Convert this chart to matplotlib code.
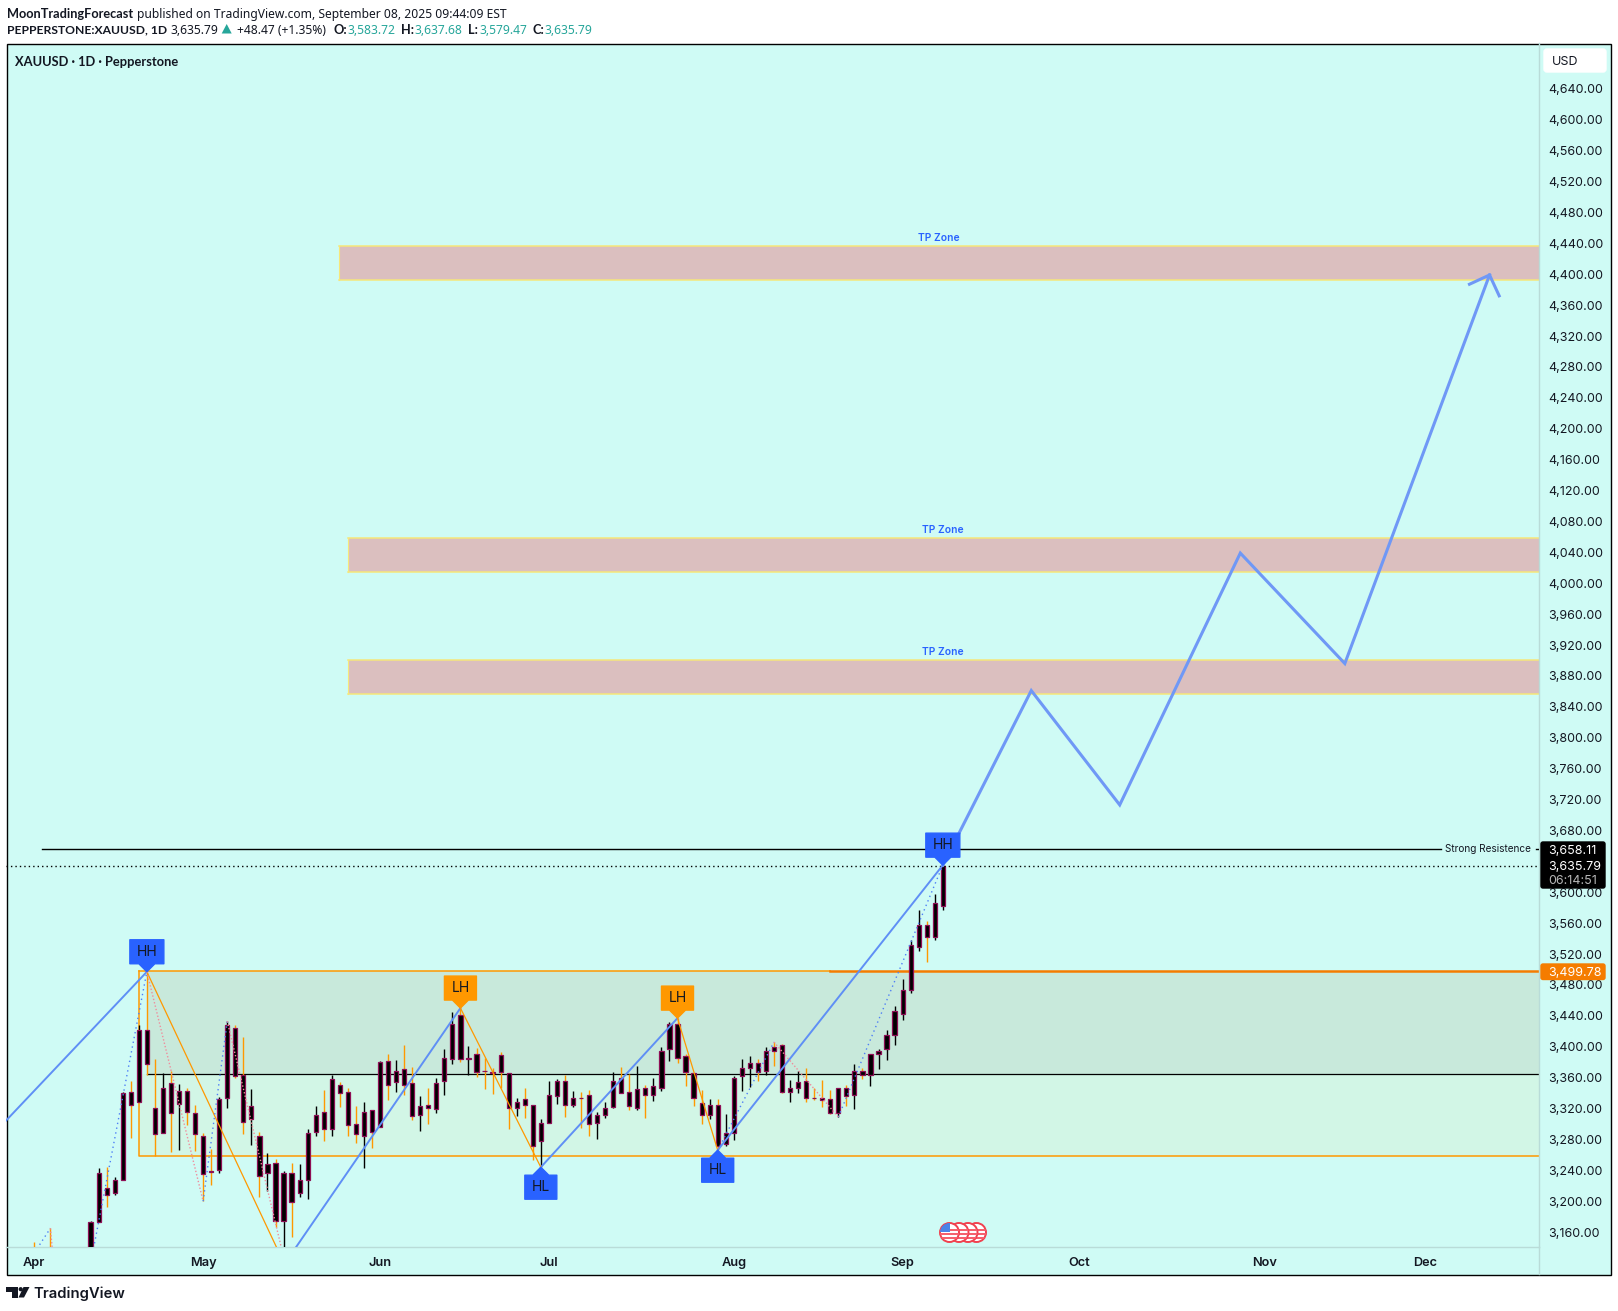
import matplotlib
matplotlib.use('Agg')
import matplotlib.pyplot as plt
from matplotlib.patches import Circle, Polygon, Rectangle, FancyBboxPatch
from matplotlib.lines import Line2D
from matplotlib.transforms import Affine2D

WIDTH, HEIGHT = 1618, 1311

# daily candles, one entry per trading day from Apr 1 (first ones mostly below the axis)
highs = [3149, 3139, 3167, 3135, 3110, 3055, 3020, 3176, 3245, 3246, 3233, 3343, 3357, 3430, 3499,
         3386, 3368, 3370, 3354, 3348, 3327, 3290, 3269, 3337, 3435, 3430, 3415, 3347, 3291, 3265,
         3256, 3241, 3252, 3250, 3295, 3325, 3346, 3366, 3356, 3349, 3325, 3331, 3320, 3383, 3393,
         3385, 3404, 3376, 3338, 3349, 3361, 3399, 3447, 3452, 3403, 3400, 3387, 3374, 3395, 3368,
         3336, 3349, 3327, 3309, 3357, 3360, 3365, 3344, 3343, 3346, 3317, 3330, 3369, 3376, 3367,
         3377, 3352, 3361, 3402, 3434, 3439, 3393, 3368, 3346, 3334, 3334, 3315, 3364, 3386, 3390,
         3386, 3402, 3408, 3405, 3359, 3370, 3374, 3348, 3359, 3346, 3349, 3352, 3379, 3375, 3393,
         3399, 3424, 3455, 3489, 3540, 3579, 3565, 3600, 3637.68]
body_tops = [3135, 3133, 3125, 3115, 3090, 3035, 3000, 3175, 3238, 3219, 3229, 3342, 3343, 3423, 3423,
             3322, 3348, 3355, 3344, 3345, 3316, 3287, 3241, 3334, 3430, 3426, 3366, 3325, 3287, 3250,
             3252, 3239, 3239, 3230, 3290, 3314, 3318, 3360, 3352, 3343, 3302, 3317, 3320, 3382, 3383,
             3371, 3373, 3355, 3325, 3326, 3355, 3387, 3432, 3443, 3388, 3392, 3370, 3369, 3391, 3368,
             3331, 3334, 3327, 3303, 3339, 3357, 3358, 3336, 3336, 3339, 3313, 3323, 3357, 3362, 3343,
             3347, 3349, 3351, 3397, 3431, 3431, 3390, 3368, 3329, 3326, 3326, 3290, 3362, 3374, 3381,
             3381, 3396, 3401, 3404, 3348, 3356, 3357, 3336, 3336, 3334, 3348, 3349, 3371, 3371, 3393,
             3397, 3417, 3448, 3476, 3533, 3559, 3559, 3588, 3635.79]
body_bots = [3115, 3113, 3090, 3090, 3035, 2975, 2970, 3083, 3175, 3210, 3212, 3230, 3327, 3331, 3380,
             3289, 3290, 3316, 3328, 3317, 3289, 3237, 3240, 3242, 3335, 3364, 3305, 3308, 3234, 3238,
             3177, 3177, 3201, 3212, 3229, 3291, 3295, 3295, 3342, 3300, 3289, 3286, 3291, 3298, 3353,
             3356, 3352, 3312, 3314, 3322, 3321, 3358, 3386, 3386, 3386, 3369, 3370, 3368, 3369, 3322,
             3323, 3327, 3274, 3280, 3303, 3338, 3326, 3326, 3336, 3302, 3303, 3313, 3324, 3342, 3325,
             3323, 3339, 3339, 3348, 3399, 3387, 3369, 3336, 3314, 3313, 3274, 3276, 3290, 3364, 3374,
             3369, 3370, 3397, 3343, 3343, 3349, 3335, 3336, 3333, 3316, 3316, 3338, 3339, 3365, 3365,
             3393, 3399, 3417, 3444, 3475, 3531, 3544, 3544, 3583.72]
lows = [3100, 3100, 3054, 3054, 3015, 2957, 2960, 3080, 3175, 3194, 3210, 3230, 3284, 3330, 3366,
        3260, 3290, 3266, 3268, 3300, 3267, 3202, 3223, 3238, 3323, 3361, 3289, 3275, 3208, 3215,
        3168, 3130, 3155, 3207, 3205, 3286, 3280, 3287, 3324, 3286, 3277, 3245, 3271, 3298, 3333,
        3343, 3340, 3307, 3293, 3302, 3316, 3340, 3380, 3382, 3366, 3363, 3347, 3341, 3348, 3296,
        3312, 3310, 3255, 3246, 3303, 3328, 3311, 3324, 3297, 3286, 3283, 3310, 3323, 3342, 3320,
        3320, 3310, 3332, 3345, 3384, 3381, 3351, 3325, 3302, 3308, 3268, 3274, 3281, 3345, 3350,
        3358, 3366, 3377, 3342, 3330, 3342, 3330, 3333, 3324, 3315, 3311, 3325, 3321, 3360, 3351,
        3373, 3385, 3404, 3437, 3471, 3526, 3512, 3540, 3579.47]
# o = orange wick, k = black wick
wick_kinds = list('okokkokkkokkoko' 'okokooookkookok' 'okokkkokoookoko' 'kookokkkokooooo'
                  'kookkkokookkkoo' 'kokkkooookokkkk' 'okookkoooo' 'kokok' 'kkkkkkokk')

# 3,640 sits under the last-price tag in the original, so it is not listed
price_ticks = [p for p in range(3160, 4641, 40) if p != 3640]
month_bars = [0, 21, 43, 64, 87, 108, 130, 153, 173]
month_names = ['Apr', 'May', 'Jun', 'Jul', 'Aug', 'Sep', 'Oct', 'Nov', 'Dec']

last_price = 3635.79
resistance = 3658.11
range_top = 3499.78
range_mid = 3367
range_low = 3260

# drawn tools: (bar, price) pairs
wave_up = [[(-4, 3301), (14, 3499)], [(31, 3119), (53, 3452)], [(63, 3246), (80, 3439)], [(85, 3268), (113, 3637)]]
wave_down = [[(14, 3499), (31, 3123)], [(53, 3452), (63, 3246)], [(80, 3439), (85, 3268)]]
dots_up = [[(0, 3135), (2, 3167)], [(6, 3067), (14, 3499)], [(21, 3202), (24, 3435)],
           [(85, 3268), (92, 3408)], [(100, 3311), (113, 3637)]]
dots_down = [[(2, 3167), (3, 3054)], [(14, 3499), (21, 3202)], [(24, 3435), (31, 3130)], [(92, 3408), (100, 3311)]]
projection_bars = [113, 124, 135, 150, 163, 181]
projection_prices = [3637, 3863, 3715, 4041, 3898, 4401]
arrow_head_bars = [178.5, 181, 182.2]
arrow_head_prices = [4389, 4401, 4374]

zone_left = [37.85, 39, 39]
zone_top = [4439, 4061, 3902]
zone_bot = [4395, 4017, 3858]
zone_text_bar = [112.5, 113, 113]

pivot_bars = [14, 53, 63, 80, 85, 113]
pivot_prices = [3499, 3452, 3246, 3439, 3268, 3637]
pivot_names = ['HH', 'LH', 'HL', 'LH', 'HL', 'HH']

BG = '#cffbf5'
INK = '#131722'
BLUE = '#2962ff'
ORANGE = '#ff9800'
TEAL = '#26a69a'
LINE_BLUE = '#5f8ff5'
UI_FONT = ['Inter', 'DejaVu Sans']
HEAD_FONT = ['Noto Sans', 'DejaVu Sans']
# Noto Sans has no bold face here, Lato does
BOLD_FONT = ['Lato', 'DejaVu Sans']
HEAD_SIZE = 8.7

fig = plt.figure(figsize=(WIDTH / 100, HEIGHT / 100), dpi=100, facecolor='white')
px = Affine2D().scale(1, -1).translate(0, HEIGHT)


def ftext(x, y, s, **kw):
    kw.setdefault('va', 'center_baseline')
    kw.setdefault('family', UI_FONT)
    kw.setdefault('color', INK)
    return fig.text(x / WIDTH, 1 - y / HEIGHT, s, **kw)


fig.add_artist(Rectangle((6.5, 43.5), 1604.5, 1231, transform=px, facecolor=BG, edgecolor='black',
                         linewidth=1, zorder=-2))

# chart area in pixels: x 6..1539, y 43..1247
ax = fig.add_axes([6 / WIDTH, 1 - 1247 / HEIGHT, 1533 / WIDTH, 1204 / HEIGHT])
ax.patch.set_visible(False)
bar_px = 8.04
price_px = 1.2945
ax.set_xlim(-3.52, 187.15)
ax.set_ylim(3142.7, 4701.3)

# range box behind the candles
ax.fill_between([14, 187.15], range_mid, range_top, color='#c8e9db', lw=0, zorder=1)
ax.fill_between([13, 187.15], range_low, range_mid, color='#d2f6e6', lw=0, zorder=1)
ax.plot([13, 13, 187.15], [range_top, range_low, range_low], color=ORANGE, lw=1.1, zorder=2)
ax.plot([13, 99], [range_top, range_top], color=ORANGE, lw=1.1, zorder=2)
ax.plot([99, 187.15], [range_top, range_top], color='#f57c00', lw=1.8, zorder=2)
ax.plot([14, 187.15], [range_mid, range_mid], color='black', lw=0.9, zorder=2)

# target zones
for left, top, bot, tx in zip(zone_left, zone_top, zone_bot, zone_text_bar):
    ax.fill_between([left, 187.15], bot, top, color='#dbbfbf', lw=0, zorder=1)
    ax.plot([left, 187.15], [top, top], color='#f6e77a', lw=1.1, zorder=2)
    ax.plot([left, 187.15], [bot, bot], color='#f6e77a', lw=1.1, zorder=2)
    ax.plot([left, left], [bot, top], color='#f6e77a', lw=0.8, zorder=2)
    ax.text(tx, top + 8 * price_px, 'TP Zone', color=BLUE, fontsize=7.4, fontweight='semibold',
            family=UI_FONT, ha='center', va='center', zorder=6)

# candles
bars = range(len(highs))
wick_cols = [ORANGE if k == 'o' else 'black' for k in wick_kinds]
ax.vlines(bars, lows, highs, colors=wick_cols, linewidth=1.0, zorder=3)
ax.bar(bars, [t - b for t, b in zip(body_tops, body_bots)], bottom=body_bots, width=0.52,
       color='black', edgecolor='#8e0f55', linewidth=0.9, zorder=4)

# levels
ax.plot([1, 175], [resistance, resistance], color='black', lw=1.0, zorder=5)
ax.plot([186.8, 187.15], [resistance, resistance], color='black', lw=1.0, zorder=5)
ax.axhline(last_price, color='black', lw=1.0, ls=(0, (1, 2.2)), zorder=5)
ftext(1445, 848.5, 'Strong Resistence', fontsize=7.2, ha='left')

# zigzags
for seg in wave_up:
    ax.plot(*zip(*seg), color=LINE_BLUE, lw=1.4, zorder=5)
for seg in wave_down:
    ax.plot(*zip(*seg), color=ORANGE, lw=0.9, zorder=5)
for seg in dots_up:
    ax.plot(*zip(*seg), color='#4f7ff5', lw=1.0, ls=(0, (1, 2.5)), zorder=5)
for seg in dots_down:
    ax.plot(*zip(*seg), color='#f08c9c', lw=1.0, ls=(0, (1, 1.5)), zorder=5)

# projected path
ax.plot(projection_bars, projection_prices, color='#6f98f6', lw=2.2, solid_joinstyle='miter', zorder=6)
ax.plot(arrow_head_bars, arrow_head_prices, color='#6f98f6', lw=2.2, solid_joinstyle='miter', zorder=6)

# pivot tags
for b, p, name in zip(pivot_bars, pivot_prices, pivot_names):
    col = ORANGE if name == 'LH' else BLUE
    half = (17 if name == 'HH' else 16) * 1.0 / bar_px
    tip = 8 / bar_px
    s = -1 if name == 'HL' else 1
    y0 = p + s * 8 * price_px
    y1 = y0 + s * 24 * price_px
    verts = [(b, p), (b - tip, y0), (b - half, y0), (b - half, y1), (b + half, y1), (b + half, y0), (b + tip, y0)]
    ax.add_patch(Polygon(verts, closed=True, facecolor=col, edgecolor=col, lw=1.0, joinstyle='round', zorder=7))
    ax.text(b, (y0 + y1) / 2, name, ha='center', va='center', color=INK, fontsize=10, family=UI_FONT, zorder=8)

for side in ['left', 'top']:
    ax.spines[side].set_visible(False)
for side in ['right', 'bottom']:
    ax.spines[side].set_color('#b9dcd8')
    ax.spines[side].set_linewidth(1.0)
ax.yaxis.tick_right()
ax.set_yticks(price_ticks)
ax.set_yticklabels([f'{p:,.2f}' for p in price_ticks], family=UI_FONT, fontsize=9.0, color=INK)
ax.set_xticks(month_bars)
ax.set_xticklabels(month_names, family=UI_FONT, fontsize=9.2, fontweight='semibold', color=INK)
ax.tick_params(axis='y', length=0, pad=6.6)
ax.tick_params(axis='x', length=0, pad=7)
for lab in ax.get_yticklabels():
    lab.set_transform(lab.get_transform() + Affine2D().translate(0, 1.5))

fig.add_artist(Line2D([1539, 1539], [1247, 1274], transform=px, color='#b9dcd8', lw=1.0, zorder=1))

# price scale tags
fig.add_artist(FancyBboxPatch((1541, 842), 64, 46, boxstyle='round,pad=0,rounding_size=2', transform=px,
                              facecolor='black', edgecolor='black', lw=1, zorder=5))
ftext(1548.5, 849, f'{resistance:,.2f}', color='white', fontsize=9.0, zorder=6)
ftext(1548.5, 865.5, f'{last_price:,.2f}', color='white', fontsize=9.0, zorder=6)
ftext(1548.5, 879.5, '06:14:51', color='#b8b8b8', fontsize=9.0, zorder=6)
fig.add_artist(FancyBboxPatch((1541, 964), 64, 15.5, boxstyle='round,pad=0,rounding_size=2', transform=px,
                              facecolor='#f57c00', edgecolor='#f57c00', lw=1, zorder=5))
ftext(1548.5, 971.5, f'{range_top:,.2f}', color='white', fontsize=9.0, zorder=6)
fig.add_artist(FancyBboxPatch((1544, 49), 62, 23, boxstyle='round,pad=0,rounding_size=3', transform=px,
                              facecolor='white', edgecolor='white', lw=1, zorder=5))
ftext(1552, 60.5, 'USD', fontsize=9.0, zorder=6)

# header
ftext(15, 61, 'XAUUSD · 1D · Pepperstone', fontsize=9.3, fontweight='bold', family=BOLD_FONT)
ftext(6.7, 12.7, 'MoonTradingForecast', fontsize=9.2, fontweight='bold', family=BOLD_FONT)
ftext(136.7, 12.7, 'published on TradingView.com, September 08, 2025 09:44:09 EST', fontsize=HEAD_SIZE, family=HEAD_FONT)
ftext(6.7, 29.3, 'PEPPERSTONE:XAUUSD, 1D', fontsize=8.7, fontweight='bold', family=BOLD_FONT)
ftext(170.3, 29.3, '3,635.79', fontsize=HEAD_SIZE, family=HEAD_FONT)
fig.add_artist(Polygon([(221.7, 33.5), (226.7, 24), (231.7, 33.5)], closed=True, transform=px, facecolor=TEAL, edgecolor='none'))
ftext(236.7, 29.3, '+48.47 (+1.35%)', fontsize=HEAD_SIZE, family=HEAD_FONT)
for x_lab, lab, x_val, val in [(333.3, 'O:', 347.3, '3,583.72'), (400.7, 'H:', 414.3, '3,637.68'),
                               (468.3, 'L:', 479.3, '3,579.47'), (532.3, 'C:', 544.3, '3,635.79')]:
    ftext(x_lab, 29.3, lab, fontsize=9.2, fontweight='bold', family=BOLD_FONT)
    ftext(x_val, 29.3, val, fontsize=HEAD_SIZE, color=TEAL, family=HEAD_FONT)

# economic calendar flags
for i, cx in enumerate([976.5, 968, 959, 949.5]):
    disc = Circle((cx, 1232.5), 9.5, transform=px, facecolor='white', edgecolor='#f0414f', lw=1.4, zorder=5 + i)
    fig.add_artist(disc)
    for sy in (-3.5, 0.5, 4.5):
        stripe = Rectangle((cx - 10, 1232.5 + sy), 20, 2, transform=px, facecolor='#f5626e', edgecolor='none', zorder=5 + i)
        fig.add_artist(stripe)
        stripe.set_clip_path(disc)
    if i == 3:
        canton = Rectangle((cx - 10, 1223), 10, 9, transform=px, facecolor='#4a84e8', edgecolor='none', zorder=5 + i)
        fig.add_artist(canton)
        canton.set_clip_path(disc)

# logo
fig.add_artist(Polygon([(6, 1287), (17.5, 1287), (17.5, 1297.5), (12, 1297.5), (12, 1291.5), (6, 1291.5)], closed=True,
                       transform=px, facecolor=INK, edgecolor='none'))
fig.add_artist(Circle((20.7, 1289.2), 2.1, transform=px, facecolor=INK, edgecolor='none'))
fig.add_artist(Polygon([(23.5, 1287), (29.5, 1287), (24, 1297.5), (18.5, 1297.5)], closed=True,
                       transform=px, facecolor=INK, edgecolor='none'))
ftext(33, 1292.5, 'TradingView', fontsize=10.7, fontweight='semibold')

fig.savefig('out.png', dpi=100)
